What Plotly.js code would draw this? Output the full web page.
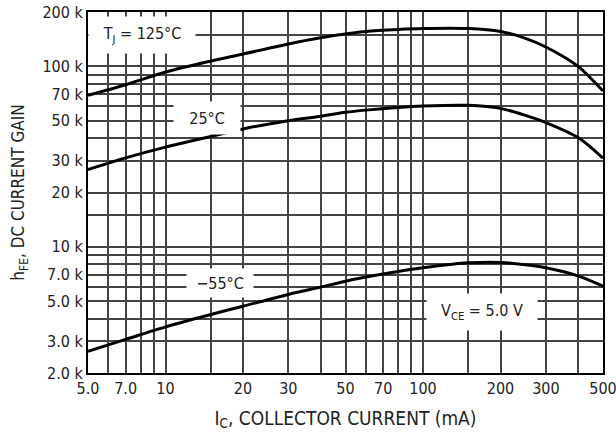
<!DOCTYPE html>
<html>
<head>
<meta charset="utf-8">
<script src="https://cdn.plot.ly/plotly-3.0.1.min.js"></script>
<style>html,body{margin:0;padding:0;background:#fff;}#chart{width:616px;height:436px;}</style>
</head>
<body>
<div id="chart"></div>
<script>
// Collector current (mA)
var collectorCurrent = [5, 7, 10, 15, 20, 30, 40, 50, 60, 80, 100, 150, 200, 250, 300, 400, 500];
// DC current gain hFE for each junction temperature
var gain125C = [69000, 79000, 93000, 107000, 117000, 133000, 144000, 151000, 156000, 160000, 162000, 162000, 156000, 143000, 128000, 100000, 73000];
var gain25C  = [26800, 31100, 35700, 40900, 45000, 50000, 52900, 55600, 57200, 59200, 60300, 60800, 58500, 53500, 48800, 40300, 31000];
var gainM55C = [2640, 3070, 3600, 4220, 4690, 5450, 5980, 6450, 6800, 7300, 7650, 8150, 8200, 7950, 7650, 6900, 6050];

// Axis grid values and tick labels
var xGridVals = [5, 6, 7, 8, 9, 10, 15, 20, 30, 40, 50, 60, 70, 80, 90, 100, 150, 200, 300, 400, 500];
var xTickText = ["5.0", "", "7.0", "", "", "10", "", "20", "30", "", "50", "", "70", "", "", "100", "", "200", "300", "", "500"];
var yGridVals = [2000, 3000, 4000, 5000, 6000, 7000, 8000, 9000, 10000, 15000, 20000, 30000, 40000, 50000, 60000, 70000, 80000, 90000, 100000, 150000, 200000];
var yTickText = ["2.0 k", "3.0 k", "", "5.0 k", "", "7.0 k", "", "", "10 k", "", "20 k", "30 k", "", "50 k", "", "70 k", "", "", "100 k", "", "200 k"];

// Curve labels: [text, x (mA), y (gain), box width, box height]
var curveLabels = [
  ["T<sub>J</sub> = 125°C", 8.1, 150000, 104, 34],
  ["25°C", 14.5, 52000, 64, 30],
  ["\u221255°C", 16.3, 6270, 64, 26],
  ["V<sub>CE</sub> = 5.0 V", 169.5, 4380, 108, 34]
];

var FONT = "Liberation Sans Narrow, DejaVu Sans Condensed, Liberation Sans, Arial, sans-serif";
var lineStyle = {color: "#000", width: 3, shape: "spline", smoothing: 0.8};

var traces = [gain125C, gain25C, gainM55C].map(function (g) {
  return {x: collectorCurrent, y: g, type: "scatter", mode: "lines", line: lineStyle, hoverinfo: "skip"};
});

var annotations = curveLabels.map(function (l) {
  return {
    text: l[0], x: Math.log10(l[1]), y: Math.log10(l[2]), xref: "x", yref: "y",
    showarrow: false, bgcolor: "#fff", width: l[3], height: l[4],
    font: {family: FONT, size: 16, color: "#222"}
  };
});

var layout = {
  width: 616, height: 436,
  margin: {l: 88, r: 13, t: 12, b: 63},
  paper_bgcolor: "#fff", plot_bgcolor: "#fff",
  showlegend: false,
  font: {family: FONT, size: 16, color: "#222"},
  xaxis: {
    type: "log", range: [Math.log10(5), Math.log10(500)],
    tickmode: "array", tickvals: xGridVals, ticktext: xTickText,
    showgrid: true, gridcolor: "#444", gridwidth: 2,
    showline: true, linecolor: "#000", linewidth: 2, mirror: true,
    ticks: "", ticklen: 0, zeroline: false, ticklabeloverflow: "allow",
    tickfont: {family: FONT, size: 16, color: "#222"},
    title: {text: "I<sub>C</sub>, COLLECTOR CURRENT (mA)", font: {family: FONT, size: 19, color: "#222"}, standoff: 14}
  },
  yaxis: {
    type: "log", range: [Math.log10(2000), Math.log10(200000)],
    tickmode: "array", tickvals: yGridVals, ticktext: yTickText,
    showgrid: true, gridcolor: "#444", gridwidth: 2,
    showline: true, linecolor: "#000", linewidth: 2, mirror: true,
    ticks: "", ticklen: 0, zeroline: false,
    tickfont: {family: FONT, size: 16, color: "#222"},
    title: {text: "h<sub>FE</sub>, DC CURRENT GAIN", font: {family: FONT, size: 17, color: "#222"}, standoff: 13}
  },
  annotations: annotations
};

Plotly.newPlot("chart", traces, layout, {staticPlot: true, displayModeBar: false});
</script>
</body>
</html>
